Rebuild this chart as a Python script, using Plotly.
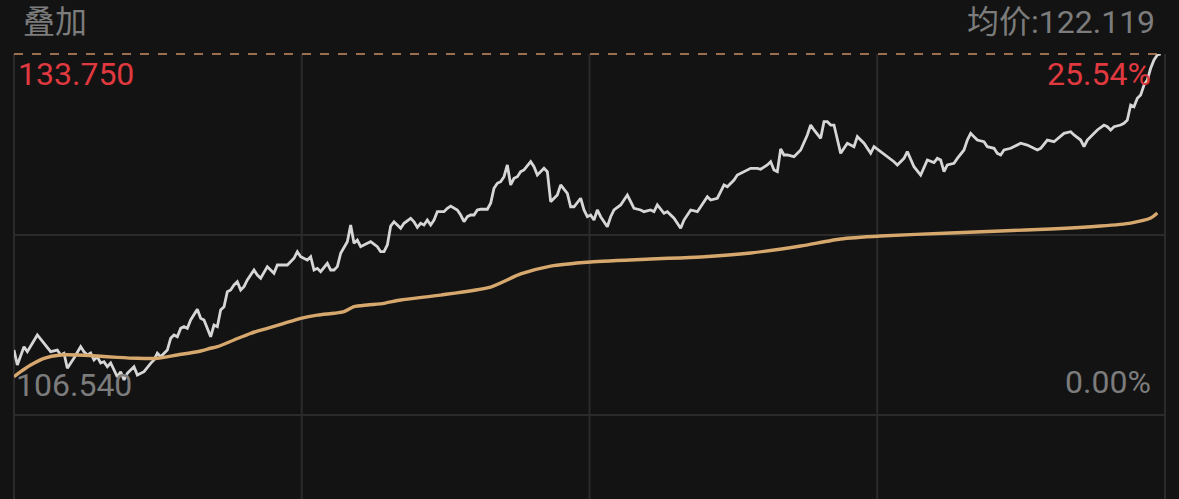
import plotly.graph_objects as go

# ---- data (trading-day index, price) ----
price_days = [0,1,3,4,7,9,10,11,13,14,15,16,18,20,21,22,23,24,25,26,27,28,29,31,32,33,34,36,37,39,
              41,42,43,44,46,47,48,49,50,51,52,53,55,56,57,59,60,61,62,63,64,65,66,67,68,69,70,72,73,74,
              76,77,78,79,81,82,84,85,86,88,89,90,91,92,94,95,96,97,98,100,101,102,103,104,106,107,109,110,111,112,
              113,114,115,116,117,119,120,121,122,123,124,125,126,127,129,130,131,133,134,135,136,137,138,139,140,142,143,144,145,146,
              147,148,149,150,151,152,153,155,156,157,159,160,161,163,164,166,167,168,170,171,172,173,174,175,176,178,179,180,182,184,
              185,186,188,189,191,192,193,195,196,198,200,201,203,205,206,208,209,211,212,213,214,216,217,219,221,223,224,226,227,228,
              229,230,231,232,234,236,238,239,240,242,243,244,245,246,247,248,249,250,252,253,255,257,258,260,262,264,265,267,268,270,
              272,273,274,276,277,278,279,280,282,283,285,286,287,288,289,291,292,294,295,296,297,299,301,302,304,305,307,308,310,312,
              314,315,317,318,320,321,322,324,325,327,328,329,330,332,333,334,335,336,337,338,339,340,341,342,343,344]
price_vals = [109.04,107.79,109.32,108.90,110.30,109.63,109.32,108.90,109.04,108.63,108.77,107.52,108.38,109.32,108.90,108.63,108.79,108.21,108.48,107.96,
              108.07,107.65,107.96,106.81,107.23,106.54,107.10,107.65,106.96,107.23,
              107.93,108.21,108.77,108.48,109.04,110.02,110.30,110.15,110.85,110.99,110.85,111.55,112.44,111.69,111.55,110.15,111.13,110.99,112.38,112.66,
              113.91,114.05,114.47,114.74,114.05,114.33,114.89,115.72,115.30,115.03,
              116.00,115.72,115.45,116.14,116.14,116.14,116.70,117.25,116.83,116.56,116.83,115.72,115.86,115.58,116.28,115.72,115.72,116.00,117.11,118.08,
              119.48,117.95,118.22,117.67,117.95,118.08,117.67,117.25,117.25,117.81,
              119.39,119.75,119.48,119.20,119.62,120.04,119.75,119.28,119.62,119.48,119.89,119.48,119.89,120.59,120.59,120.87,121.06,120.73,120.31,119.75,
              120.17,120.31,120.31,120.73,120.79,120.79,121.29,122.54,122.96,123.09,
              123.51,124.49,122.82,123.37,123.51,123.93,124.07,124.76,124.34,123.65,124.21,123.93,121.42,121.98,122.82,122.12,121.00,121.00,121.71,120.73,
              120.17,120.31,119.89,120.73,120.17,119.33,120.17,120.73,121.15,121.98,
              121.42,120.87,120.73,120.59,120.73,120.59,121.15,120.45,120.59,120.04,119.20,119.89,120.73,120.59,121.00,121.84,121.56,121.71,122.26,122.82,
              122.67,123.23,123.65,123.93,124.21,124.21,124.13,124.49,124.76,124.07,
              123.93,125.82,125.32,125.32,125.18,125.74,126.99,127.82,127.41,126.71,128.10,128.10,127.82,127.82,126.57,125.46,125.88,126.30,126.01,126.85,
              126.30,125.46,126.01,125.60,125.18,124.76,124.49,125.04,125.60,124.34,
              123.65,124.34,124.90,124.68,125.04,124.90,123.93,124.49,124.63,125.04,125.74,126.57,127.13,126.85,126.57,126.43,126.01,125.88,125.46,125.32,
              125.74,125.88,126.15,126.30,126.15,126.01,125.74,125.88,126.57,126.43,
              126.85,127.13,127.26,126.99,126.57,126.01,126.57,127.13,127.41,127.82,127.68,127.41,127.68,127.82,127.97,128.24,129.49,129.35,130.05,130.33,
              131.16,131.58,132.56,133.25,133.67,133.75]

overlay_days = [0,2,5,9,14,19,25,31,37,43,49,55,59,61,66,71,76,81,86,91,96,99,102,106,111,116,
                128,143,152,161,173,191,206,221,236,248,260,281,296,311,326,335,341,343]
overlay_vals = [106.81,107.23,107.79,108.35,108.63,108.63,108.54,108.43,108.35,108.35,108.63,108.90,109.19,109.32,109.88,110.44,110.85,111.27,111.69,111.96,
                112.11,112.24,112.66,112.80,112.94,113.22,
                113.63,114.30,115.39,116.05,116.39,116.64,116.81,117.14,117.72,118.31,118.56,118.81,118.98,119.14,119.39,119.64,120.06,120.48]

top_label = "133.750"
bottom_label = "106.540"
top_pct = "25.54%"
bottom_pct = "0.00%"
title_left = "叠加"
title_right = "均价:122.119"

y_max = 133.75
y_min_label = 106.54

BG = "#131313"
GRID = "#2b2b2b"
RED = "#e0393f"
GRAY = "#7c7c7c"
FONT = "Roboto, 'Noto Sans CJK SC', sans-serif"

fig = go.Figure()
fig.add_trace(go.Scatter(x=price_days, y=price_vals, mode="lines",
                         line=dict(color="#d6d6d6", width=2.8), hoverinfo="skip"))
fig.add_trace(go.Scatter(x=overlay_days, y=overlay_vals, mode="lines",
                         line=dict(color="#d7a86e", width=3.4, shape="spline", smoothing=0.6), hoverinfo="skip"))

# plot area: y pixel 54 -> y_max, y pixel 380 -> y_min_label, bottom at pixel 499
span = (y_max - y_min_label) * 445 / 326
fig.update_layout(
    width=1179, height=499,
    margin=dict(l=14, r=14, t=54, b=0),
    paper_bgcolor=BG, plot_bgcolor=BG,
    showlegend=False,
    xaxis=dict(range=[0, 345.3], visible=False, fixedrange=True),
    yaxis=dict(range=[y_max - span, y_max], visible=False, fixedrange=True),
    font=dict(family=FONT),
)

shapes = []
for xp in [0, 0.25, 0.5, 0.75, 1.0]:
    shapes.append(dict(type="line", xref="paper", yref="paper", x0=xp, x1=xp, y0=0, y1=1,
                       line=dict(color=GRID, width=2), layer="below"))
for yp in [0.5933, 0.1888]:
    shapes.append(dict(type="line", xref="paper", yref="paper", x0=0, x1=1, y0=yp, y1=yp,
                       line=dict(color=GRID, width=2), layer="below"))
shapes.append(dict(type="line", xref="paper", yref="paper", x0=0, x1=1, y0=1, y1=1,
                   line=dict(color="#c98d66", width=1.5, dash="dash"), layer="above"))
fig.update_layout(shapes=shapes)

def ann(text, x, y, anchor, color, size):
    fig.add_annotation(text=text, xref="paper", yref="paper", x=x, y=y,
                       xanchor=anchor, yanchor="middle", showarrow=False,
                       font=dict(color=color, size=size, family=FONT))

ann(title_left, 0.006, 1.072, "left", GRAY, 32)
ann(title_right, 0.993, 1.072, "right", GRAY, 32)
ann(top_label, 0.002, 0.955, "left", RED, 32)
ann(top_pct, 0.990, 0.955, "right", RED, 32)
ann(bottom_label, 0.000, 0.256, "left", GRAY, 32)
ann(bottom_pct, 0.990, 0.263, "right", GRAY, 32)

fig.write_html("out.html", config={"displayModeBar": False},
               post_script="document.body.style.margin='0';document.body.style.background='#131313';")
